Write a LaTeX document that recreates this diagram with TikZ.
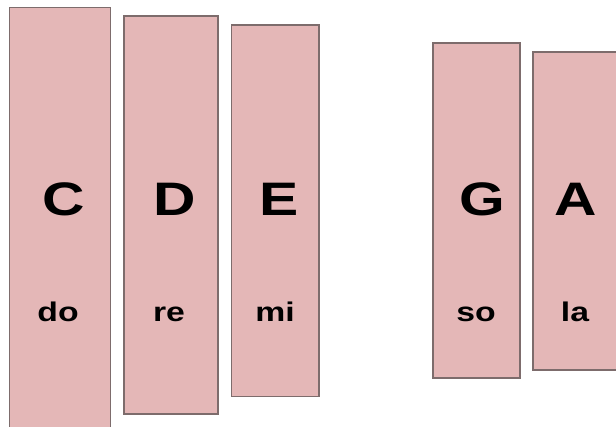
\documentclass[tikz,border=0pt]{standalone}
\usepackage{fontspec}
\setmainfont{Liberation Sans}
\definecolor{barfill}{RGB}{228,183,183}
\definecolor{barline}{RGB}{125,108,108}
\begin{document}
\begin{tikzpicture}[x=1pt,y=-1pt,
  bar/.style={draw=barline,fill=barfill,line width=1.3pt},
  note/.style={anchor=base,inner sep=0pt,font=\fontsize{47}{47}\selectfont\bfseries},
  syl/.style={anchor=base,inner sep=0pt,font=\fontsize{27}{27}\selectfont\bfseries}]
\useasboundingbox (0,0) rectangle (616,427);
\draw[bar] (9.5,430) -- (9.5,7.5) -- (110.5,7.5) -- (110.5,430);
\draw[bar] (124,16) rectangle (218,414);
\draw[bar] (231.5,25) rectangle (319,396.5);
\draw[bar] (433,43) rectangle (520,378);
\draw[bar] (620,52) -- (533,52) -- (533,370) -- (620,370);
\node[note] (c) at (64,216) {\scalebox{1.25}[1]{C}};
\node[note] (d) at (175,216) {\scalebox{1.25}[1]{D}};
\node[note] (e) at (279,216) {\scalebox{1.25}[1]{E}};
\node[note] (g) at (482,216) {\scalebox{1.25}[1]{G}};
\node[note] (a) at (576,216) {\scalebox{1.25}[1]{A}};
\node[syl] (do) at (58,322) {\scalebox{1.25}[1]{do}};
\node[syl] (re) at (169,322) {\scalebox{1.25}[1]{re}};
\node[syl] (mi) at (275,322) {\scalebox{1.25}[1]{mi}};
\node[syl] (so) at (476,322) {\scalebox{1.25}[1]{so}};
\node[syl] (la) at (575,322) {\scalebox{1.25}[1]{la}};
\end{tikzpicture}
\end{document}
